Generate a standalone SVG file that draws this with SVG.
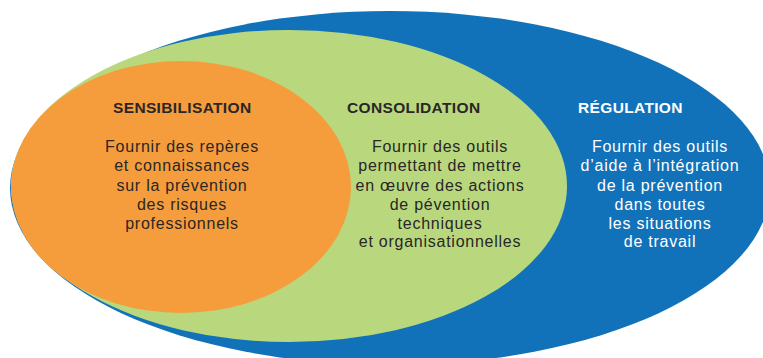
<svg xmlns="http://www.w3.org/2000/svg" width="763" height="358" viewBox="0 0 763 358">
<style>
.t{font-family:"Liberation Sans",Arial,sans-serif;font-weight:700;font-size:15.5px;letter-spacing:0.35px}
.b{font-family:"Liberation Sans",Arial,sans-serif;font-size:16px;letter-spacing:0.75px;text-anchor:middle}
.dk{fill:#2a2627}
.wh{fill:#ffffff}
</style>
<rect width="763" height="358" fill="#ffffff"/>
<g id="regulation">
<ellipse cx="390" cy="188" rx="380" ry="177" fill="#1172b9"/>
<text class="t wh" x="578" y="113">RÉGULATION</text>
<text class="b wh" x="660" y="152">Fournir des outils</text>
<text class="b wh" x="660" y="171">d’aide à l’intégration</text>
<text class="b wh" x="660" y="190.5">de la prévention</text>
<text class="b wh" x="660" y="209.5">dans toutes</text>
<text class="b wh" x="660" y="228.5">les situations</text>
<text class="b wh" x="660" y="247">de travail</text>
</g>
<g id="consolidation">
<ellipse cx="289" cy="186" rx="278" ry="156" fill="#b9d87e"/>
<text class="t dk" x="347" y="113">CONSOLIDATION</text>
<text class="b dk" x="440" y="152">Fournir des outils</text>
<text class="b dk" x="440" y="171">permettant de mettre</text>
<text class="b dk" x="440" y="190.5">en œuvre des actions</text>
<text class="b dk" x="440" y="209.5">de pévention</text>
<text class="b dk" x="440" y="228.5">techniques</text>
<text class="b dk" x="440" y="247">et organisationnelles</text>
</g>
<g id="sensibilisation">
<ellipse cx="181" cy="187" rx="170" ry="126" fill="#f59d3c"/>
<text class="t dk" x="113" y="113">SENSIBILISATION</text>
<text class="b dk" x="182" y="152">Fournir des repères</text>
<text class="b dk" x="182" y="171">et connaissances</text>
<text class="b dk" x="182" y="190.5">sur la prévention</text>
<text class="b dk" x="182" y="209.5">des risques</text>
<text class="b dk" x="182" y="228.5">professionnels</text>
</g>
<g id="connectors"/>
</svg>
